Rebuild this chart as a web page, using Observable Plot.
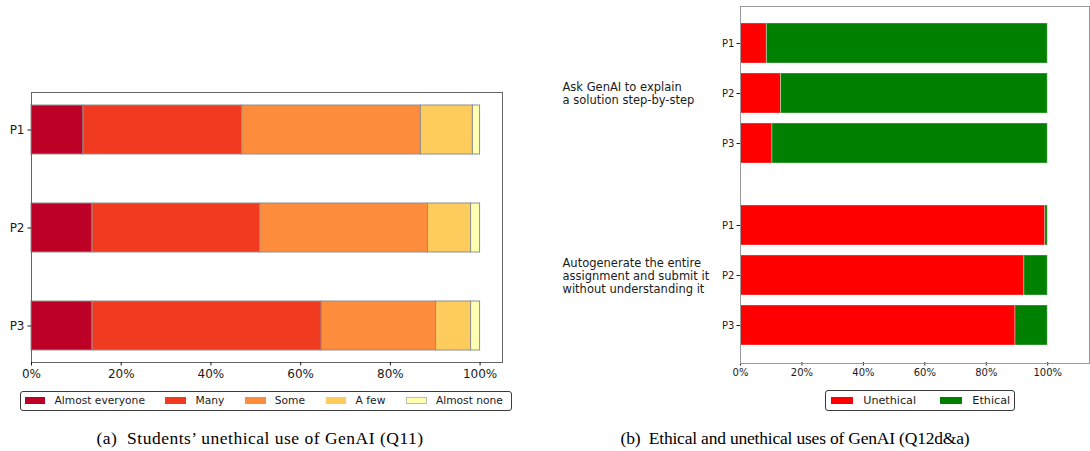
<!DOCTYPE html>
<html><head><meta charset="utf-8">
<script src="https://cdn.jsdelivr.net/npm/d3@7"></script>
<script src="https://cdn.jsdelivr.net/npm/@observablehq/plot@0.6"></script>
<style>
html,body{margin:0;padding:0;background:#fff;}
body{width:1090px;height:451px;position:relative;overflow:hidden;font-family:"DejaVu Sans",sans-serif;color:#1a1a1a;}
.abs{position:absolute;}
.abs svg{display:block;max-width:none;}
.legend{position:absolute;border:1px solid #3a3a3a;border-radius:3px;display:flex;align-items:center;box-sizing:border-box;background:#fff;white-space:nowrap;}
.legend .item{display:flex;align-items:center;}
.legend .sw{display:inline-block;box-sizing:border-box;}
.caption{position:absolute;font-family:"Liberation Serif",serif;font-size:17.5px;color:#000;white-space:pre;line-height:20px;transform:translateX(-50%);}
</style></head><body>
<div id="left" class="abs" style="left:0;top:0;width:520px;height:385px"></div>
<div id="right" class="abs" style="left:540px;top:0;width:550px;height:385px"></div>
<div id="rightFrame" class="abs" style="left:540px;top:0;width:550px;height:385px;pointer-events:none"></div>
<div id="leftLegend" class="legend" style="left:20px;top:390.5px;width:492px;height:20px;padding-left:3.5px;font-size:10.7px"></div>
<div id="rightLegend" class="legend" style="left:825px;top:390px;width:189.5px;height:20.7px;padding-left:4.5px;font-size:11.2px"></div>
<div class="caption" style="left:260px;top:428px;letter-spacing:0.5px">(a)  Students’ unethical use of GenAI (Q11)</div>
<div class="caption" style="left:795px;top:428px;letter-spacing:-0.2px">(b)  Ethical and unethical uses of GenAI (Q12d&amp;a)</div>
<script>
// ---------- data ----------
const programs = ["P1", "P2", "P3"];
const levels = ["Almost everyone", "Many", "Some", "A few", "Almost none"];
const levelColors = ["#bd0026", "#f03b20", "#fd8d3c", "#fecc5c", "#ffffb2"];
const shareP1 = [11.6, 35.4, 39.8, 11.6, 1.6];
const shareP2 = [13.6, 37.4, 37.4, 9.6, 2.0];
const shareP3 = [13.6, 51.1, 25.5, 7.8, 2.0];
const xTicks = [0, 20, 40, 60, 80, 100];

const uses = [
  "Ask GenAI to explain\na solution step-by-step",
  "Autogenerate the entire\nassignment and submit it\nwithout understanding it"
];
const judgments = ["Unethical", "Ethical"];
const judgmentColors = ["#ff0000", "#008000"];
const unethicalExplain = [8.6, 13.2, 10.4];
const ethicalExplain = [91.4, 86.8, 89.6];
const unethicalAutogen = [99.2, 92.4, 89.5];
const ethicalAutogen = [0.8, 7.6, 10.5];

// ---------- left chart ----------
const leftRows = [];
[shareP1, shareP2, shareP3].forEach((arr, i) =>
  arr.forEach((v, j) => leftRows.push({program: programs[i], level: levels[j], share: v})));

const pct = d => d + "%";
const baseStyle = {fontFamily: "DejaVu Sans", color: "#1a1a1a", background: "transparent", overflow: "visible"};

const left = Plot.plot({
  width: 520, height: 385,
  marginLeft: 31, marginRight: 18, marginTop: 92, marginBottom: 23,
  style: baseStyle,
  x: {domain: [0, 105]},
  y: {domain: programs, paddingInner: 0.5, paddingOuter: 0.117},
  color: {domain: levels, range: levelColors},
  marks: [
    Plot.barX(leftRows, Plot.stackX({x: "share", y: "program", fill: "level", stroke: "#8f8f8f", strokeWidth: 1})),
    Plot.frame({stroke: "#666", strokeWidth: 1}),
    Plot.axisX({ticks: xTicks, tickFormat: pct, tickSize: 3.5, tickPadding: 3, fontSize: 12, label: null}),
    Plot.axisY({tickSize: 3.5, tickPadding: 3.5, fontSize: 12, label: null})
  ]
});
document.getElementById("left").appendChild(left);

// ---------- right chart ----------
const rightRows = [];
[[unethicalExplain, ethicalExplain], [unethicalAutogen, ethicalAutogen]].forEach(([u, e], g) =>
  programs.forEach((p, i) => {
    rightRows.push({use: uses[g], program: p, judgment: judgments[0], share: u[i]});
    rightRows.push({use: uses[g], program: p, judgment: judgments[1], share: e[i]});
  }));

const rightDims = {width: 550, height: 385, marginLeft: 200, marginRight: 1, marginTop: 6, marginBottom: 22};

const right = Plot.plot({
  ...rightDims,
  style: baseStyle,
  x: {domain: [0, 113.6]},
  y: {domain: programs, paddingInner: 0.2, paddingOuter: 0.33},
  fy: {domain: uses, paddingInner: 0.042, paddingOuter: 0, axis: null, label: null},
  color: {domain: judgments, range: judgmentColors},
  marks: [
    Plot.barX(rightRows, Plot.stackX({x: "share", y: "program", fy: "use", fill: "judgment", stroke: "white", strokeOpacity: 0.35, strokeWidth: 1})),
    Plot.text(uses, {fy: d => d, text: d => d, frameAnchor: "left", textAnchor: "start", dx: -178, fontSize: 11.5, lineHeight: 1.15, fill: "#1a1a1a"}),
    Plot.axisX({ticks: xTicks, tickFormat: pct, tickSize: 3.5, tickPadding: 2.5, fontSize: 10, label: null}),
    Plot.axisY({tickSize: 3.5, tickPadding: 2.5, fontSize: 10, label: null})
  ]
});
document.getElementById("right").appendChild(right);

const rightFrame = Plot.plot({
  ...rightDims,
  style: baseStyle,
  x: {domain: [0, 113.6], axis: null},
  marks: [Plot.frame({stroke: "#9a9a9a", strokeWidth: 1})]
});
document.getElementById("rightFrame").appendChild(rightFrame);

// ---------- legends ----------
function buildLegend(el, names, colors, swW, swH, swGap, itemGap) {
  names.forEach((n, i) => {
    const item = document.createElement("div");
    item.className = "item";
    if (i < names.length - 1) item.style.marginRight = itemGap + "px";
    const sw = document.createElement("span");
    sw.className = "sw";
    sw.style.width = swW + "px";
    sw.style.height = swH + "px";
    sw.style.background = colors[i];
    sw.style.marginRight = swGap + "px";
    if (colors[i] === "#ffffb2") sw.style.border = "0.5px solid #bbb";
    const tx = document.createElement("span");
    tx.textContent = n;
    item.appendChild(sw);
    item.appendChild(tx);
    el.appendChild(item);
  });
}
buildLegend(document.getElementById("leftLegend"), levels, levelColors, 20.7, 7, 9.3, 20.5);
buildLegend(document.getElementById("rightLegend"), judgments, judgmentColors, 22.3, 7.3, 10.4, 23.6);
</script>
</body></html>
